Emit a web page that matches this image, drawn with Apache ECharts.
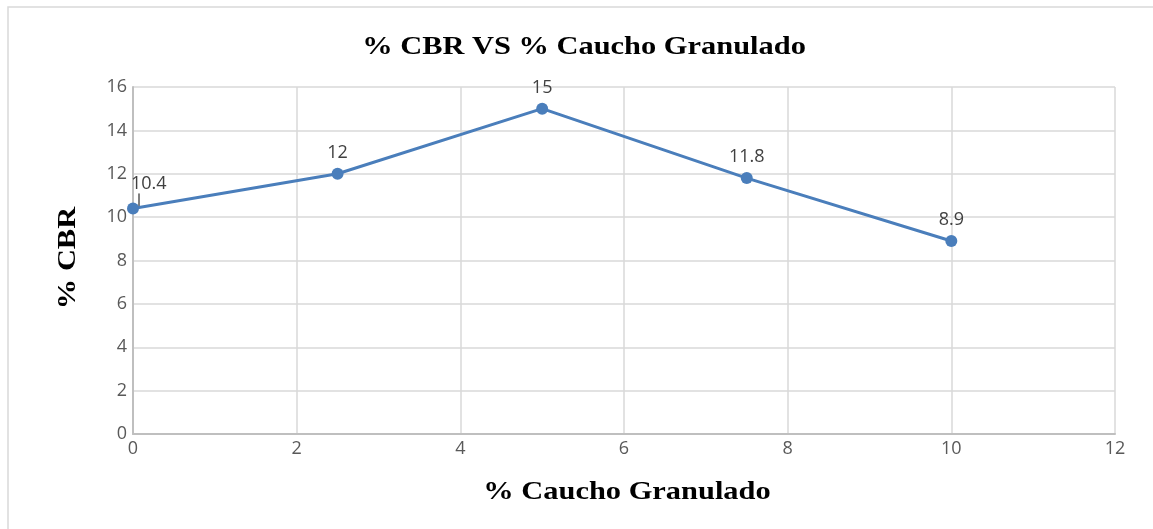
<!DOCTYPE html>
<html>
<head>
<meta charset="utf-8">
<script src="https://cdn.jsdelivr.net/npm/echarts@6/dist/echarts.min.js"></script>
<style>
  html, body { margin: 0; padding: 0; background: #fff; }
  #chart { width: 1153px; height: 529px; }
</style>
</head>
<body>
<div id="chart"></div>
<script>
// % caucho granulado (x) vs % CBR (y)
var cauchoPct = [0, 2.5, 5, 7.5, 10];
var cbrPct = [10.4, 12, 15, 11.8, 8.9];

var titleText = "% CBR VS % Caucho Granulado";
var xName = "% Caucho Granulado";
var yName = "% CBR";

var serifBold = "bold 26px 'Liberation Serif', 'DejaVu Serif', serif";
var tickFont = "'Open Sans', 'Noto Sans', sans-serif";

var chart = echarts.init(document.getElementById("chart"));

var points = cauchoPct.map(function (x, i) {
  var p = { value: [x, cbrPct[i]] };
  if (i === 0) {
    p.label = { position: "right", offset: [-14, -25] };
  }
  return p;
});

chart.setOption({
  animation: false,
  backgroundColor: "#ffffff",
  grid: {
    left: 133,
    right: 38,
    top: 87,
    bottom: 95
  },
  xAxis: {
    type: "value",
    min: 0,
    max: 12,
    interval: 2,
    axisLine: { show: true, lineStyle: { color: "#bfbfbf", width: 2 } },
    axisTick: { show: false },
    axisLabel: { color: "#595959", fontSize: 18, fontFamily: tickFont, margin: 6 },
    splitLine: { show: true, lineStyle: { color: "#d9d9d9", width: 1.5 } }
  },
  yAxis: {
    type: "value",
    min: 0,
    max: 16,
    interval: 2,
    axisLine: { show: true, lineStyle: { color: "#bfbfbf", width: 2 } },
    axisTick: { show: false },
    axisLabel: { color: "#595959", fontSize: 18, fontFamily: tickFont, margin: 6 },
    splitLine: { show: true, lineStyle: { color: "#d9d9d9", width: 1.5 } }
  },
  series: [
    {
      name: yName,
      type: "line",
      data: points,
      symbol: "circle",
      symbolSize: 12,
      lineStyle: { color: "#4a7ebb", width: 3 },
      itemStyle: { color: "#4a7ebb" },
      label: {
        show: true,
        position: "top",
        distance: 6,
        color: "#404040",
        fontSize: 18,
        fontFamily: tickFont
      }
    }
  ],
  graphic: [
    {
      type: "rect",
      silent: true,
      shape: { x: 8, y: 7, width: 1300, height: 700 },
      style: { fill: null, stroke: "#d9d9d9", lineWidth: 1.5 }
    },
    {
      type: "text",
      x: 584,
      y: 47,
      scaleX: 1.17,
      style: { text: titleText, x: 0, y: 0, font: serifBold, fill: "#000", align: "center", verticalAlign: "middle" }
    },
    {
      type: "text",
      x: 627,
      y: 492,
      scaleX: 1.17,
      style: { text: xName, x: 0, y: 0, font: serifBold, fill: "#000", align: "center", verticalAlign: "middle" }
    },
    {
      type: "text",
      x: 68,
      y: 258,
      rotation: Math.PI / 2,
      scaleX: 1.17,
      style: { text: yName, x: 0, y: 0, font: serifBold, fill: "#000", align: "center", verticalAlign: "middle" }
    }
  ]
});

// leader line from the first point to its shifted label, placed through the axes
var first = chart.convertToPixel({ gridIndex: 0 }, [cauchoPct[0], cbrPct[0]]);
chart.setOption({
  graphic: [
    {
      id: "leader",
      type: "line",
      silent: true,
      shape: { x1: first[0] + 6, y1: first[1] - 15, x2: first[0] + 6, y2: first[1] - 1 },
      style: { stroke: "#000", lineWidth: 1 }
    }
  ]
});
</script>
</body>
</html>
